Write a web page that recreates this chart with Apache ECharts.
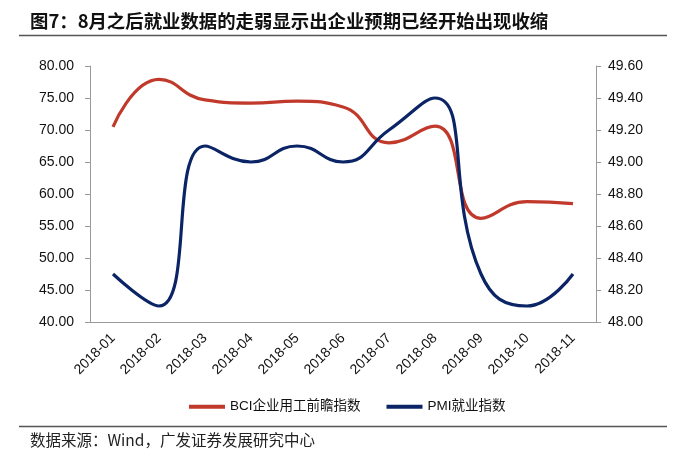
<!DOCTYPE html>
<html>
<head>
<meta charset="utf-8">
<script src="https://cdn.jsdelivr.net/npm/echarts@6/dist/echarts.min.js"></script>
<style>
html,body{margin:0;padding:0;background:#fff;}
#c{width:691px;height:462px;}
</style>
</head>
<body>
<div id="c"></div>
<script>
var categories = ['2018-01','2018-02','2018-03','2018-04','2018-05','2018-06','2018-07','2018-08','2018-09','2018-10','2018-11'];
var bciValues = [70.5, 77.9, 74.7, 74.2, 74.5, 73.6, 68.0, 70.6, 56.2, 58.8, 58.5];
var pmiValues = [48.3, 48.1, 49.1, 49.0, 49.1, 49.0, 49.2, 49.4, 48.3, 48.1, 48.3];
var seriesNames = ['BCI企业用工前瞻指数', 'PMI就业指数'];
var titleText = '图7：8月之后就业数据的走弱显示出企业预期已经开始出现收缩';
var sourceText = '数据来源：Wind，广发证券发展研究中心';

var latin = '"Liberation Sans", Arial, "Noto Sans CJK SC", sans-serif';
var cjk = '"Noto Sans CJK SC", "Liberation Sans", sans-serif';
var chart = echarts.init(document.getElementById('c'), null, {renderer:'canvas'});
chart.setOption({
  animation: false,
  backgroundColor: '#fff',
  grid: {left: 90, right: 95, top: 66, bottom: 140, containLabel: false},
  legend: {
    left: 184, top: 395,
    itemWidth: 36, itemHeight: 4, itemGap: 26,
    icon: 'rect',
    textStyle: {fontSize: 13.5, color: '#111', fontFamily: latin},
    data: seriesNames
  },
  xAxis: {
    type: 'category', data: categories,
    axisLine: {lineStyle: {color: '#999', width: 1}},
    axisTick: {lineStyle: {color: '#999'}, length: 5},
    axisLabel: {rotate: 45, fontSize: 14, color: '#111', fontFamily: latin, margin: 14},
    splitLine: {show: false}
  },
  yAxis: [{
    type: 'value', min: 40, max: 80, interval: 5, position: 'left',
    axisLine: {show: true, lineStyle: {color: '#999'}},
    axisTick: {show: true, lineStyle: {color: '#999'}, length: 5},
    axisLabel: {fontSize: 14, color: '#111', fontFamily: latin, margin: 16,
      formatter: function(v){return v.toFixed(2);}},
    splitLine: {show: false}
  },{
    type: 'value', min: 48, max: 49.6, interval: 0.2, position: 'right',
    axisLine: {show: true, lineStyle: {color: '#999'}},
    axisTick: {show: true, lineStyle: {color: '#999'}, length: 5},
    axisLabel: {fontSize: 14, color: '#111', fontFamily: latin, margin: 12,
      formatter: function(v){return v.toFixed(2);}},
    splitLine: {show: false}
  }],
  series: [{
    name: seriesNames[0], type: 'line', yAxisIndex: 0, data: bciValues,
    smooth: 0.5, showSymbol: false, symbol: 'none',
    lineStyle: {color: '#C0392B', width: 3.2}, itemStyle: {color: '#C0392B'}
  },{
    name: seriesNames[1], type: 'line', yAxisIndex: 1, data: pmiValues,
    smooth: 0.5, showSymbol: false, symbol: 'none',
    lineStyle: {color: '#0B2465', width: 3.2}, itemStyle: {color: '#0B2465'}
  }],
  graphic: [
    {type: 'text', left: 30, top: 12, style: {text: titleText, font: 'bold 18.4px ' + cjk, fill: '#111'}},
    {type: 'line', shape: {x1: 19, y1: 35.5, x2: 667, y2: 35.5}, style: {stroke: '#555', lineWidth: 1.5}},
    {type: 'line', shape: {x1: 19, y1: 426.5, x2: 667, y2: 426.5}, style: {stroke: '#555', lineWidth: 1.5}},
    {type: 'text', left: 30, top: 432, style: {text: sourceText, font: '15.5px ' + cjk, fill: '#222'}}
  ]
});
</script>
</body>
</html>
